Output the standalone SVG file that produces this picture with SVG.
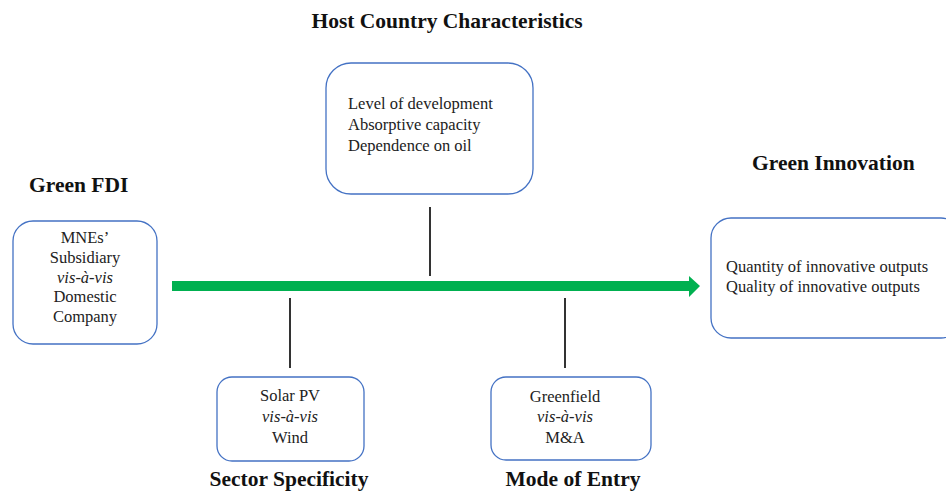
<svg xmlns="http://www.w3.org/2000/svg" width="946" height="491" viewBox="0 0 946 491">
<style>
.box{fill:#fff;stroke:#4472C4;stroke-width:1.3}
.t{font-family:"Liberation Serif","Times New Roman",serif;font-size:16.5px;fill:#222}
.c{text-anchor:middle}
.i{font-style:italic}
.h{font-family:"Liberation Serif","Times New Roman",serif;font-size:21.5px;font-weight:bold;fill:#111}
.ln{stroke:#333;stroke-width:2}
</style>
<rect width="946" height="491" fill="#fff"/>
<text class="h c" x="447" y="28">Host Country Characteristics</text>
<text class="h" x="29" y="192">Green FDI</text>
<text class="h" x="752" y="170">Green Innovation</text>
<text class="h c" x="289" y="485.5">Sector Specificity</text>
<text class="h c" x="573" y="485.5">Mode of Entry</text>
<g id="connectors">
<line class="ln" x1="430" y1="207" x2="430" y2="276"/>
<line class="ln" x1="290" y1="298" x2="290" y2="368"/>
<line class="ln" x1="565" y1="298" x2="565" y2="368"/>
<polygon points="172,281 689,281 689,276 700,286 689,297 689,291 172,291" fill="#00B050"/>
</g>
<g id="green-fdi">
<rect class="box" x="13" y="221" width="144" height="123" rx="20"/>
<text class="t c" x="85" y="243">MNEs’</text>
<text class="t c" x="85" y="263">Subsidiary</text>
<text class="t c i" x="85" y="283">vis-à-vis</text>
<text class="t c" x="85" y="302">Domestic</text>
<text class="t c" x="85" y="322">Company</text>
</g>
<g id="host">
<rect class="box" x="326" y="63" width="207" height="131" rx="25"/>
<text class="t" x="348" y="109">Level of development</text>
<text class="t" x="348" y="130">Absorptive capacity</text>
<text class="t" x="348" y="151">Dependence on oil</text>
</g>
<g id="innovation">
<rect class="box" x="711" y="218" width="250" height="120" rx="20"/>
<text class="t" x="726" y="272">Quantity of innovative outputs</text>
<text class="t" x="726" y="292">Quality of innovative outputs</text>
</g>
<g id="sector">
<rect class="box" x="217" y="377" width="147" height="84" rx="15"/>
<text class="t c" x="290" y="401">Solar PV</text>
<text class="t c i" x="290" y="422">vis-à-vis</text>
<text class="t c" x="290" y="443">Wind</text>
</g>
<g id="mode">
<rect class="box" x="491" y="377" width="160" height="83" rx="15"/>
<text class="t c" x="565" y="402">Greenfield</text>
<text class="t c i" x="565" y="422">vis-à-vis</text>
<text class="t c" x="565" y="443">M&amp;A</text>
</g>
</svg>
